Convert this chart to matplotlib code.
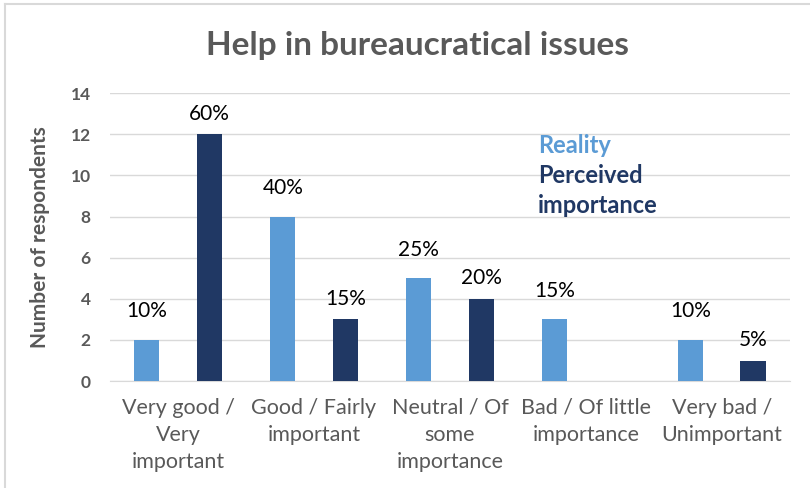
import matplotlib.pyplot as plt
import numpy as np
from matplotlib.lines import Line2D

categories = ['Very good /\nVery\nimportant', 'Good / Fairly\nimportant', 'Neutral / Of\nsome\nimportance',
              'Bad / Of little\nimportance', 'Very bad /\nUnimportant']
reality = [2, 8, 5, 3, 2]
perceived = [12, 3, 4, 0, 1]
reality_labels = ['10%', '40%', '25%', '15%', '10%']
perceived_labels = ['60%', '15%', '20%', '', '5%']

plt.rcParams['font.family'] = ['Lato', 'DejaVu Sans']
light = '#5B9BD5'
dark = '#203864'
grey = '#595959'

fig = plt.figure(figsize=(8.1, 4.88), dpi=100)
ax = fig.add_axes([0.136, 0.219, 0.839, 0.590])

x = np.arange(len(categories))
w = 0.185
off = 0.23
ax.bar(x - off, reality, w, color=light, zorder=3)
ax.bar(x + off, perceived, w, color=dark, zorder=3)

# percentage labels above the bars
for xi, v, s in zip(x, reality, reality_labels):
    if s:
        ax.text(xi - off, v + 1.4, s, ha='center', va='center', fontsize=15, color='black')
for xi, v, s in zip(x, perceived, perceived_labels):
    if s:
        ax.text(xi + off, v + 1.0, s, ha='center', va='center', fontsize=15, color='black')

ax.set_xlim(-0.5, 4.5)
ax.set_ylim(0, 14)
ax.set_yticks(range(0, 15, 2))
ax.set_xticks(x)
ax.set_xticklabels(categories, fontsize=15.5, color=grey, linespacing=1.45)
for t in ax.get_yticklabels():
    t.set_fontweight('bold')
    t.set_color(grey)
    t.set_fontsize(12.5)
ax.tick_params(axis='both', length=0)
ax.tick_params(axis='x', pad=12)
ax.tick_params(axis='y', pad=14)
ax.grid(axis='y', color='#D9D9D9', linewidth=1, zorder=0)
for sp in ['top', 'right', 'left']:
    ax.spines[sp].set_visible(False)
ax.spines['bottom'].set_color('#D9D9D9')
ax.set_ylabel('Number of respondents', fontsize=15, fontweight='bold', color=grey)
ax.yaxis.set_label_coords(-0.088, 0.5)

# text legend
ax.text(2.65, 11.45, 'Reality', fontsize=17, fontweight='bold', color=light, va='center')
ax.text(2.65, 9.99, 'Perceived', fontsize=17, fontweight='bold', color=dark, va='center')
ax.text(2.65, 8.53, 'importance', fontsize=17, fontweight='bold', color=dark, va='center')

fig.text(417 / 810, 1 - 46 / 488, 'Help in bureaucratical issues', ha='center', va='center',
         fontsize=24, fontweight='bold', color=grey)

# chart border
fig.add_artist(Line2D([5 / 810, 1], [1 - 4 / 488, 1 - 4 / 488], color='#D9D9D9', lw=1.5))
fig.add_artist(Line2D([5 / 810, 5 / 810], [0, 1 - 4 / 488], color='#D9D9D9', lw=1.5))

plt.savefig('out.png', dpi=100)
